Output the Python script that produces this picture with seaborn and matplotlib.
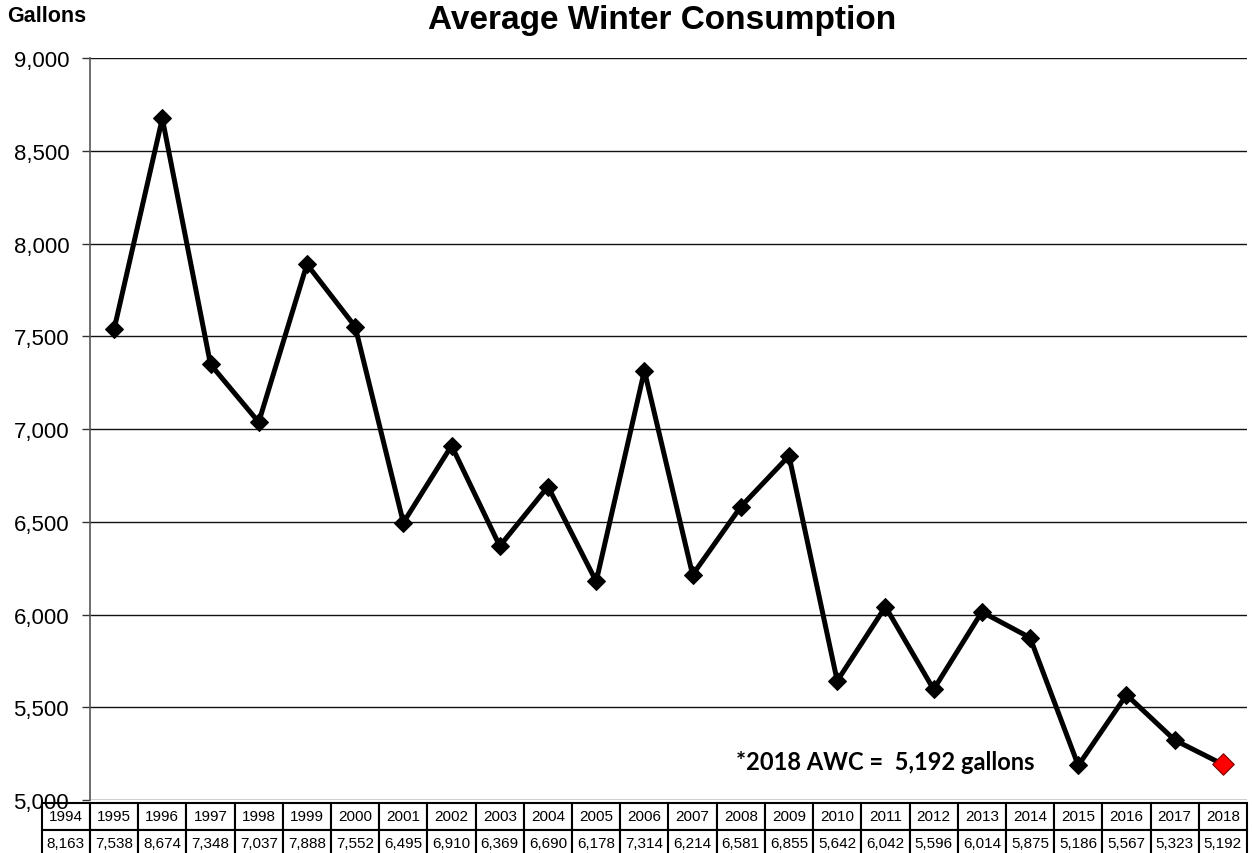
import pandas as pd
import matplotlib.pyplot as plt
import seaborn as sns

# data (table row includes 1994, line starts at 1995)
table_years = ['1994', '1995', '1996', '1997', '1998', '1999', '2000', '2001', '2002',
               '2003', '2004', '2005', '2006', '2007', '2008', '2009', '2010', '2011',
               '2012', '2013', '2014', '2015', '2016', '2017', '2018']
table_awc = [8163, 7538, 8674, 7348, 7037, 7888, 7552, 6495, 6910, 6369, 6690, 6178, 7314,
             6214, 6581, 6855, 5642, 6042, 5596, 6014, 5875, 5186, 5567, 5323, 5192]
y_ticks = [5000, 5500, 6000, 6500, 7000, 7500, 8000, 8500, 9000]
title = 'Average Winter Consumption'
note = '*2018 AWC =  5,192 gallons'

df = pd.DataFrame({'year': [int(y) for y in table_years[1:]], 'awc': table_awc[1:]})

sns.set_theme(style='white')
plt.rcParams['font.family'] = ['Liberation Sans', 'DejaVu Sans']
plt.rcParams['text.color'] = 'black'
plt.rcParams['ytick.color'] = 'black'
plt.rcParams['ytick.labelcolor'] = 'black'

fig = plt.figure(figsize=(12.52, 8.54), dpi=100)
ax = fig.add_axes([90 / 1252, 1 - 801 / 854, (1247 - 90) / 1252, (801 - 59) / 854])

# gridlines
for t in y_ticks:
    ax.axhline(t, color='#111111', lw=1.0, zorder=1)

sns.lineplot(data=df, x='year', y='awc', ax=ax, color='black', lw=3.6,
             marker='D', markersize=9.5, markeredgecolor='black', zorder=3)
last = df.iloc[[-1]]
sns.scatterplot(data=last, x='year', y='awc', ax=ax, color='red', marker='D', s=120,
                edgecolor='#7a0000', linewidth=0.8, zorder=4)

ax.set_xlim(df['year'].iloc[0] - 0.5, df['year'].iloc[-1] + 0.5)
ax.set_ylim(y_ticks[0], y_ticks[-1])
ax.set_yticks(y_ticks)
ax.set_yticklabels([f'{t:,}' for t in y_ticks], fontsize=16, color='black')
ax.set_xticks([])
ax.set_xlabel('')
ax.set_ylabel('')
ax.tick_params(axis='y', left=True, length=6, width=1, color='#333333', pad=9)
for side in ['top', 'right', 'bottom']:
    ax.spines[side].set_visible(False)
ax.spines['left'].set_color('#555555')
ax.spines['left'].set_linewidth(1.2)

# data table under the plot, one column per year, 1994 sticks out left of axis
n = len(df)
axh = 801 - 59
tb = ax.table(cellText=[table_years, [f'{v:,}' for v in table_awc]],
              cellLoc='center',
              bbox=[-1 / n, -(857 - 801) / axh, (n + 1) / n, (857 - 804) / axh])
tb.auto_set_font_size(False)
tb.set_fontsize(11)
for cell in tb.get_celld().values():
    cell.set_edgecolor('black')
    cell.set_linewidth(1.5)
    cell.PAD = 0.02
    cell.get_text().set_color('black')

ax.text(2007.9, 5210, note, fontsize=17, fontweight='bold', family=['Lato', 'DejaVu Sans'],
        color='black', ha='left', va='center', zorder=5)

fig.text(662 / 1252, 1 - 21 / 854, title, fontsize=24, fontweight='bold', color='black',
         ha='center', va='center')
fig.text(7 / 1252, 1 - 16 / 854, 'Gallons', fontsize=15.5, fontweight='bold', color='black',
         ha='left', va='center')

fig.savefig('out.png', dpi=100)
